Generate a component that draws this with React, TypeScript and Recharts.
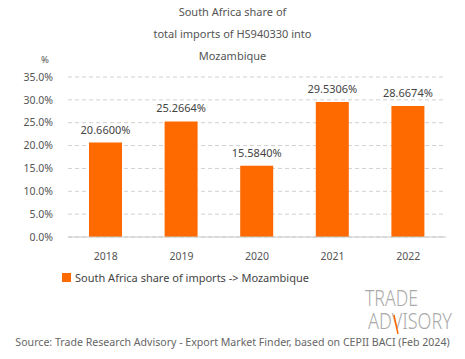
import { BarChart, Bar, XAxis, YAxis, CartesianGrid, LabelList } from 'recharts';

const years = ['2018', '2019', '2020', '2021', '2022'];
const shares = [20.66, 25.2664, 15.584, 29.5306, 28.6674];
const yTicks = [0, 5, 10, 15, 20, 25, 30, 35];

const titleLines = ['South Africa share of', 'total imports of HS940330 into', 'Mozambique'];
const seriesName = 'South Africa share of imports -> Mozambique';
const sourceText = 'Source: Trade Research Advisory - Export Market Finder, based on CEPII BACI (Feb 2024)';

const data = years.map((year, i) => ({ year, share: shares[i] }));

const FONT = '"Noto Sans", sans-serif';
const ORANGE = '#ff6a00';
const GREY = '#555';

export default function App() {
  return (
    <div style={{ position: 'absolute', left: 0, top: 0, width: 465, height: 359, background: '#fff', fontFamily: FONT }}>
      {titleLines.map((t, i) => (
        <div
          key={t}
          style={{ position: 'absolute', left: 0, width: 465, top: 4 + i * 22, textAlign: 'center', fontSize: 11, color: GREY }}
        >
          {t}
        </div>
      ))}
      <div style={{ position: 'absolute', left: 41, top: 53, fontSize: 9.5, color: GREY }}>%</div>
      <BarChart width={465} height={359} data={data} margin={{ top: 77, right: 19, bottom: 92, left: 2 }}>
        <CartesianGrid vertical={false} stroke="#d0d0d0" strokeDasharray="4 3" />
        <XAxis
          dataKey="year"
          interval={0}
          tickLine={false}
          axisLine={{ stroke: '#c8c8c8' }}
          tick={{ fontSize: 10.5, fill: GREY, fontFamily: FONT }}
          tickMargin={10}
        />
        <YAxis
          width={66}
          domain={[0, 35]}
          ticks={yTicks}
          interval={0}
          tickLine={false}
          axisLine={false}
          tickSize={6}
          tickMargin={9}
          tick={{ fontSize: 10.5, fill: GREY, fontFamily: FONT }}
          tickFormatter={(v: number) => `${v.toFixed(1)}%`}
        />
        <Bar dataKey="share" name={seriesName} fill={ORANGE} barSize={33} isAnimationActive={false}>
          <LabelList
            dataKey="share"
            position="top"
            offset={9}
            formatter={(v: any) => `${Number(v).toFixed(4)}%`}
            style={{ fontSize: 11, fill: '#444', fontFamily: FONT }}
          />
        </Bar>
      </BarChart>
      <div style={{ position: 'absolute', left: 62, top: 270, display: 'flex', alignItems: 'center', fontSize: 11, color: '#444' }}>
        <span style={{ width: 9, height: 9, background: ORANGE, display: 'inline-block', marginRight: 4 }} />
        {seriesName}
      </div>
      <svg style={{ position: 'absolute', left: 358, top: 282 }} width={104} height={54}>
        <text x={7} y={24} fontSize={21} fill="#aaa" fontFamily={FONT} fontWeight={300} textLength={53} lengthAdjust="spacingAndGlyphs">TRADE</text>
        <text x={10} y={47} fontSize={21} fill="#aaa" fontFamily={FONT} fontWeight={300} textLength={84} lengthAdjust="spacingAndGlyphs">ADVISORY</text>
        <path d="M36 33 L40 52" stroke={ORANGE} strokeWidth={1.5} fill="none" />
      </svg>
      <div style={{ position: 'absolute', left: 0, width: 465, top: 335, textAlign: 'center', fontSize: 10.6, color: '#666' }}>
        {sourceText}
      </div>
    </div>
  );
}
